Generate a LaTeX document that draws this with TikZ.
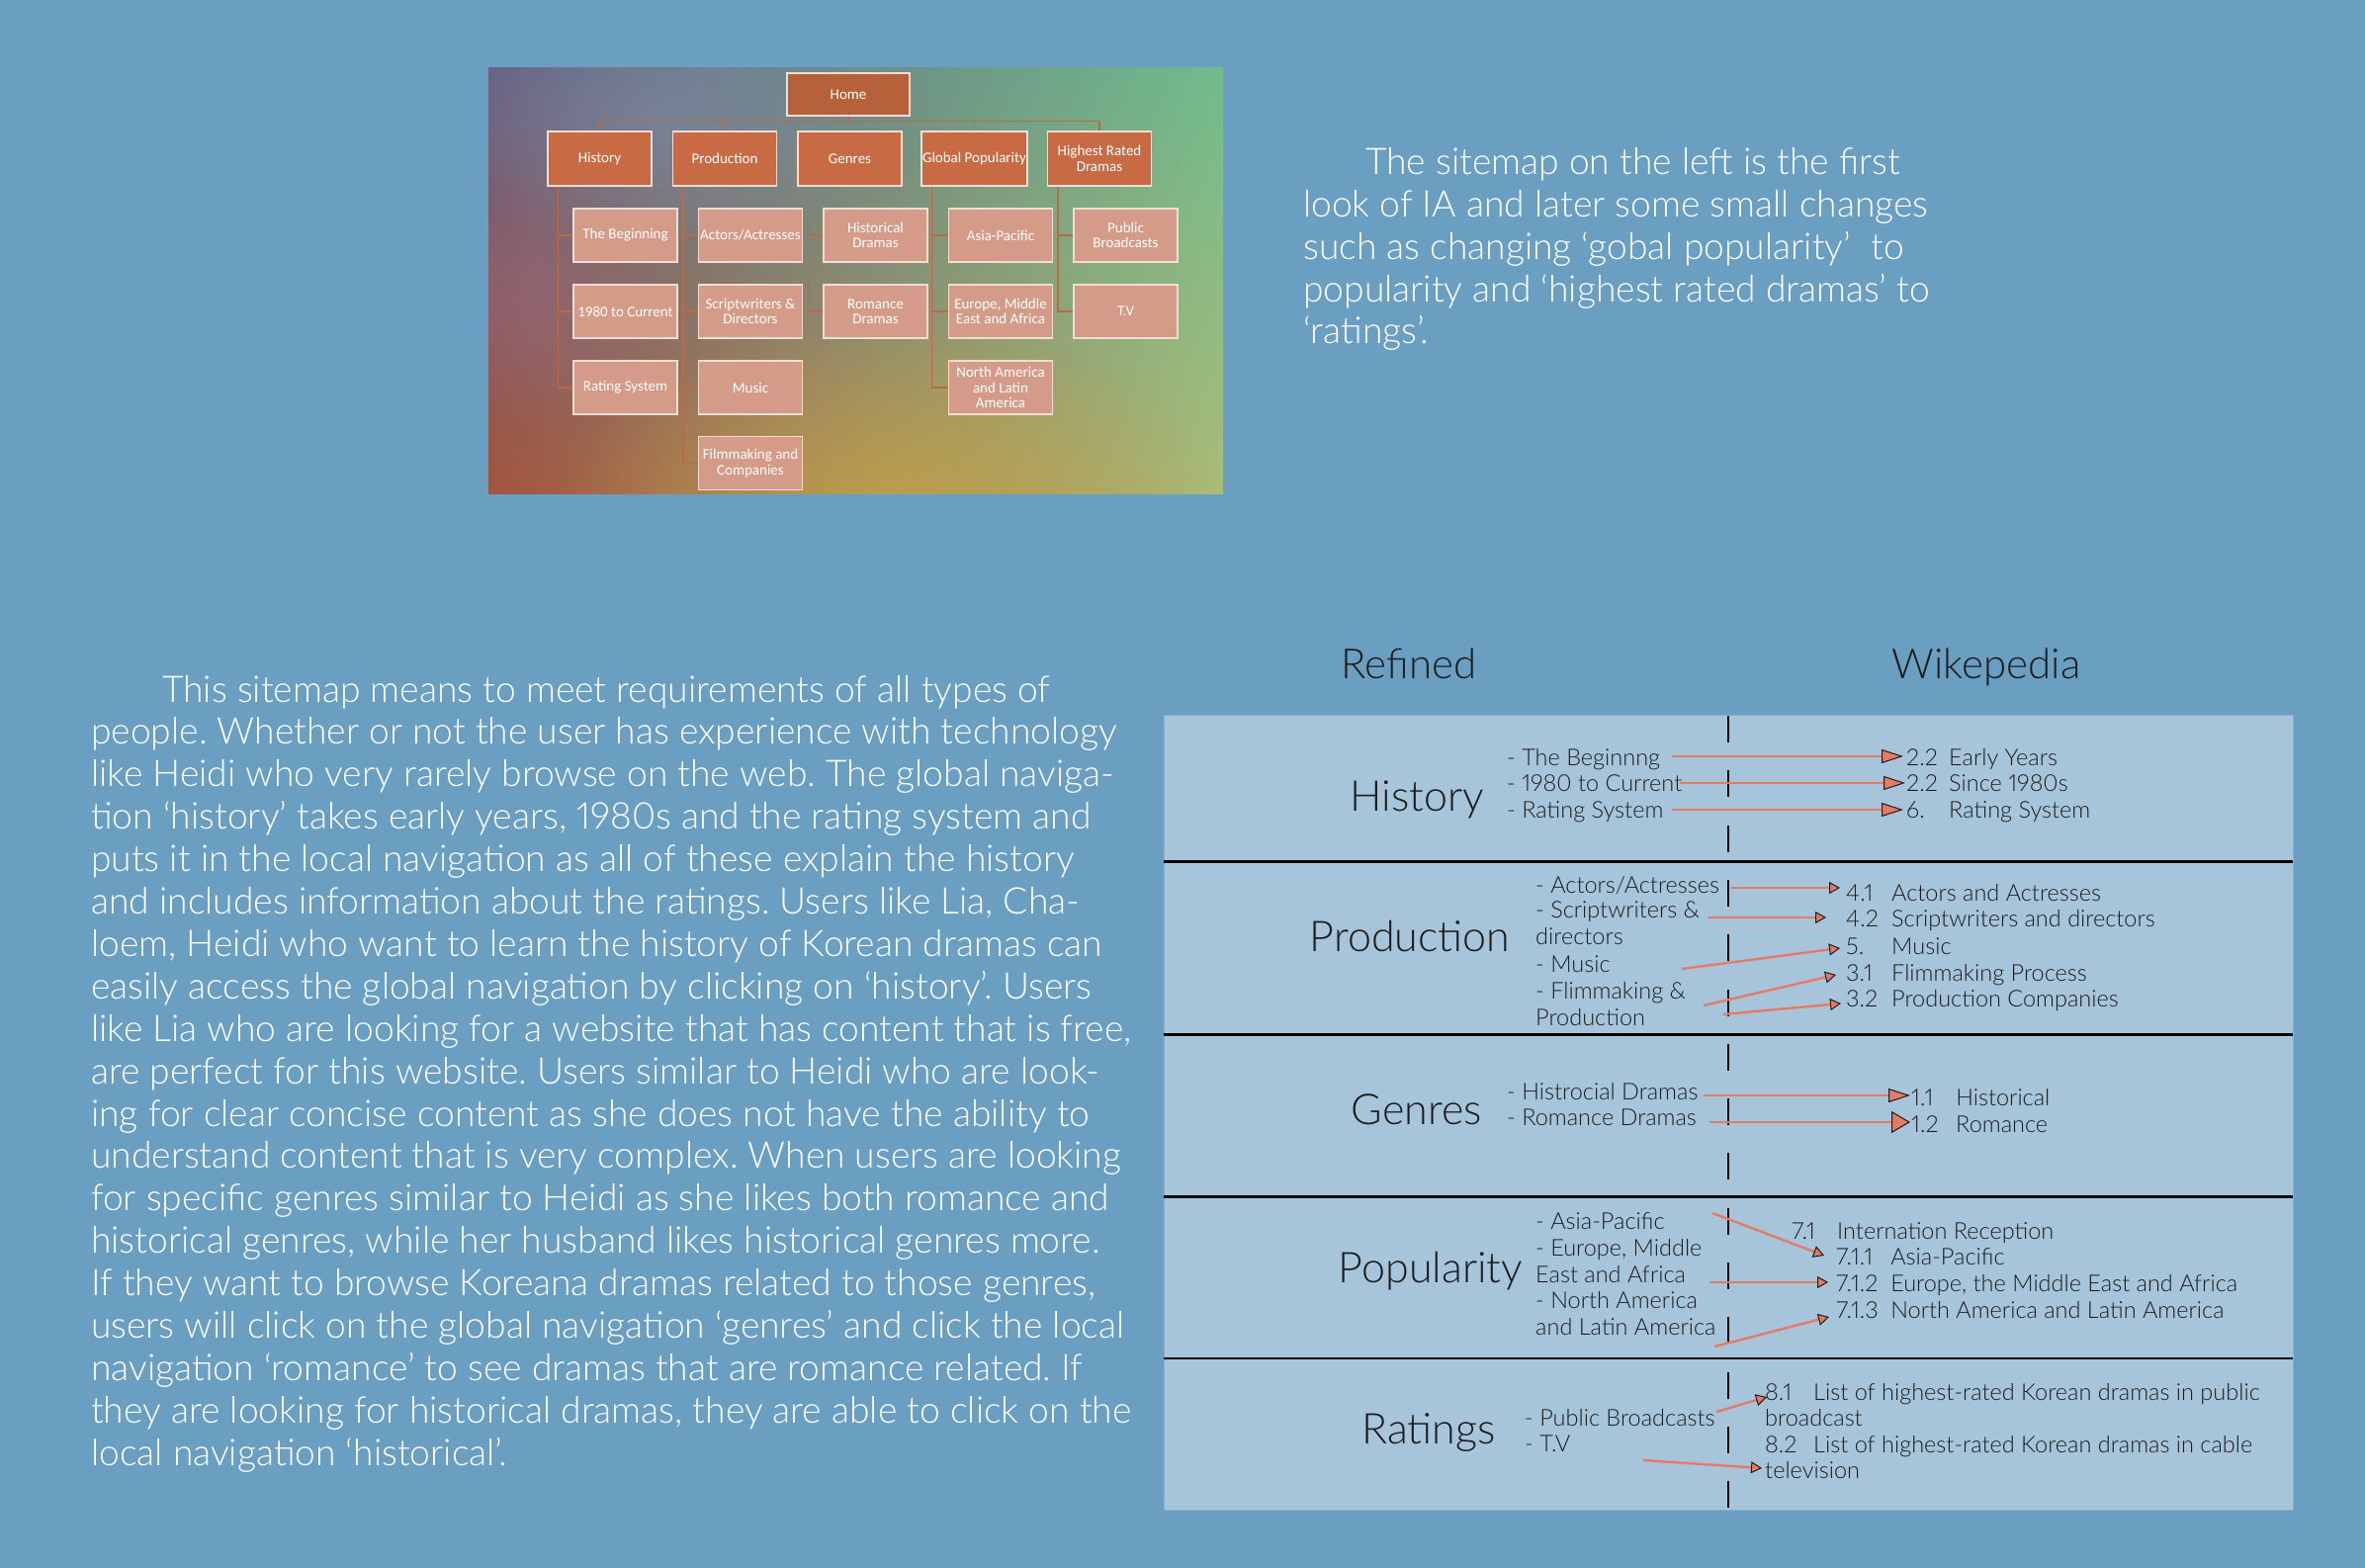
\documentclass[tikz,border=0pt]{standalone}
\usepackage{fontspec}
\IfFontExistsTF{Lato Light}{\setmainfont{Lato Light}[Numbers=Proportional]}{\setmainfont{Lato}[Numbers=Proportional]}
\newfontfamily\boxfont{Carlito}
\usetikzlibrary{arrows.meta,fadings,shadings}
\frenchspacing

\definecolor{pagebg}{HTML}{6B9FC1}
\definecolor{tablebg}{HTML}{A7C5DA}
\definecolor{tableedge}{HTML}{8DB1CB}
\definecolor{ink}{HTML}{1C1C1C}
\definecolor{arrowc}{HTML}{E27C66}
\definecolor{homefill}{HTML}{B7613B}
\definecolor{topfill}{HTML}{C86B45}
\definecolor{subfill}{HTML}{D49B88}
\definecolor{boxedge}{HTML}{F2DDD5}
\definecolor{treeline}{HTML}{B96B49}
\definecolor{glowgold}{HTML}{C2A448}
\definecolor{glowblue}{HTML}{7E8CAA}
\definecolor{glowmauve}{HTML}{9A6A80}
\definecolor{cornerUL}{HTML}{665E80}
\definecolor{cornerUR}{HTML}{70BC8C}
\definecolor{cornerLL}{HTML}{A2553F}
\definecolor{cornerLR}{HTML}{A9BC78}

\tikzfading[name=softglow, inner color=transparent!0, outer color=transparent!100]

\begin{document}
\begin{tikzpicture}[x=1pt,y=-1pt,
  homebox/.style={draw=boxedge, line width=1.2pt, fill=homefill,
    minimum width=124pt, minimum height=43pt, inner sep=1pt, text=white,
    font=\boxfont\fontsize{15}{15.5}\selectfont, align=center},
  topbox/.style={homebox, fill=topfill, minimum width=105pt, minimum height=55pt},
  subbox/.style={homebox, fill=subfill, minimum width=105pt, minimum height=54pt},
  tree/.style={draw=treeline, line width=1.3pt},
  para/.style={text=white, inner sep=0pt, anchor=base west,
    font=\fontsize{37.2}{43}\selectfont},
  head/.style={text=ink, inner sep=0pt, anchor=base,
    font=\fontsize{42}{48}\selectfont},
  rowtitle/.style={text=ink, inner sep=0pt, anchor=base,
    font=\fontsize{43}{48}\selectfont},
  item/.style={text=ink, inner sep=0pt, anchor=base west,
    font=\fontsize{23.5}{26}\selectfont},
  divider/.style={draw=black, line width=2.7pt},
  link/.style={draw=arrowc, line width=2.4pt,
    -{Triangle[length=22pt,width=14pt,color=ink,fill=arrowc,line width=1pt]}},
  biglink/.style={draw=arrowc, line width=2.4pt,
    -{Triangle[length=19pt,width=22pt,color=ink,fill=arrowc,line width=1pt]}},
  smalllink/.style={draw=arrowc, line width=2.4pt,
    -{Triangle[length=11pt,width=12pt,color=ink,fill=arrowc,line width=1pt]}}
]
\useasboundingbox (0,0) rectangle (2392,1586);
\fill[pagebg] (0,0) rectangle (2392,1586);

% ---------- first sitemap draft on a gradient panel ----------
\begin{scope}
  \clip (494,69) rectangle (1237,499);
  \shade[upper left=cornerUL, upper right=cornerUR,
         lower left=cornerLL, lower right=cornerLR]
    (494,69) rectangle (1237,499);
  \fill[glowgold, path fading=softglow, fill opacity=0.75] (900,510) ellipse (330 and 190);
  \fill[glowblue, path fading=softglow, fill opacity=0.6] (680,120) ellipse (260 and 140);
  \fill[glowmauve, path fading=softglow, fill opacity=0.5] (540,300) ellipse (150 and 140);
\end{scope}

\node[homebox] (home) at (858,95.5) {Home};

\node[topbox] (hist) at (606.5,160.5) {History};
\node[topbox] (prod) at (733,160.5) {Production};
\node[topbox] (genr) at (859.5,160.5) {Genres};
\node[topbox] (glob) at (985.5,160.5) {Global Popularity};
\node[topbox] (high) at (1112,160.5) {Highest Rated\\Dramas};

\node[subbox] (h1) at (632.5,238) {The Beginning};
\node[subbox] (h2) at (632.5,315) {1980 to Current};
\node[subbox] (h3) at (632.5,392) {Rating System};

\node[subbox] (p1) at (759,238) {Actors/Actresses};
\node[subbox] (p2) at (759,315) {Scriptwriters \&\\Directors};
\node[subbox] (p3) at (759,392) {Music};
\node[subbox] (p4) at (759,468.5) {Filmmaking and\\Companies};

\node[subbox] (g1) at (885.5,238) {Historical\\Dramas};
\node[subbox] (g2) at (885.5,315) {Romance\\Dramas};

\node[subbox] (o1) at (1012,238) {Asia-Pacific};
\node[subbox] (o2) at (1012,315) {Europe, Middle\\East and Africa};
\node[subbox] (o3) at (1012,392) {North America\\and Latin\\America};

\node[subbox] (r1) at (1138.5,238) {Public\\Broadcasts};
\node[subbox] (r2) at (1138.5,315) {T.V};

% tree connectors
\foreach \n in {hist,prod,genr,glob,high}
  \draw[tree] (home.south) -- ++(0,5) -| (\n.north);
\foreach \p/\c in {hist/h1,hist/h2,hist/h3,prod/p1,prod/p2,prod/p3,prod/p4,
                   genr/g1,genr/g2,glob/o1,glob/o2,glob/o3,high/r1,high/r2}
  \draw[tree] ([xshift=11pt]\p.south west) |- (\c.west);

% ---------- note on the right ----------
\node[para] (note1) at (1381,177) {The sitemap on the left is the first};
\node[para] (note2) at (1318,219.7) {look of IA and later some small changes};
\node[para] (note3) at (1318,262.4) {such as changing ‘gobal popularity’\ \ to};
\node[para] (note4) at (1318,305.1) {popularity and ‘highest rated dramas’ to};
\node[para] (note5) at (1318,347.8) {‘ratings’.};

% ---------- explanation paragraph ----------
\node[para] (body1) at (164,710) {This sitemap means to meet requirements of all types of};
\foreach \txt [count=\i from 2] in {
  {people. Whether or not the user has experience with technology},
  {like Heidi who very rarely browse on the web. The global naviga-},
  {tion ‘history’ takes early years, 1980s and the rating system and},
  {puts it in the local navigation as all of these explain the history},
  {and includes information about the ratings. Users like Lia, Cha-},
  {loem, Heidi who want to learn the history of Korean dramas can},
  {easily access the global navigation by clicking on ‘history’. Users},
  {like Lia who are looking for a website that has content that is free,},
  {are perfect for this website. Users similar to Heidi who are look-},
  {ing for clear concise content as she does not have the ability to},
  {understand content that is very complex. When users are looking},
  {for specific genres similar to Heidi as she likes both romance and},
  {historical genres, while her husband likes historical genres more.},
  {If they want to browse Koreana dramas related to those genres,},
  {users will click on the global navigation ‘genres’ and click the local},
  {navigation ‘romance’ to see dramas that are romance related. If},
  {they are looking for historical dramas, they are able to click on the},
  {local navigation ‘historical’.}}
  \node[para] (body\i) at (92,{710+(\i-1)*42.9}) {\txt};

% ---------- refined vs wikipedia table ----------
\node[head] (refined) at (1425,686) {Refined};
\node[head] (wiki) at (2009,686) {Wikepedia};

\fill[tablebg, draw=tableedge, line width=1pt] (1177,723) rectangle (2319,1527);
\foreach \yy in {871.5,1046.5,1210.5,1374}
  \draw[divider] (1177,\yy) -- (2319,\yy);
\draw[black, line width=2.4pt, dash pattern=on 27pt off 28.3pt] (1748,724) -- (1748,1527);

% History row
\node[rowtitle] (tHist) at (1433,820) {History};
\node[item] (lh1) at (1524,774) {- The Beginnng};
\node[item] (lh2) at (1524,800) {- 1980 to Current};
\node[item] (lh3) at (1524,827) {- Rating System};
\node[item] (wh1) at (1928,774) {\makebox[43pt][l]{2.2}Early Years};
\node[item] (wh2) at (1928,800) {\makebox[43pt][l]{2.2}Since 1980s};
\node[item] (wh3) at (1928,827) {\makebox[43pt][l]{6.}Rating System};
\coordinate (sh1) at (1691,765); \coordinate (eh1) at (1925,765);
\coordinate (sh2) at (1699,792); \coordinate (eh2) at (1927,792);
\coordinate (sh3) at (1691,819); \coordinate (eh3) at (1925,819);
\foreach \k in {1,2,3} \draw[link] (sh\k) -- (eh\k);

% Production row
\node[rowtitle] (tProd) at (1426,962) {Production};
\node[item] (lp1) at (1553,903) {- Actors/Actresses};
\node[item] (lp2) at (1553,928) {- Scriptwriters \&};
\node[item] (lp3) at (1553,955) {directors};
\node[item] (lp4) at (1553,983) {- Music};
\node[item] (lp5) at (1553,1010) {- Flimmaking \&};
\node[item] (lp6) at (1553,1037) {Production};
\node[item] (wp1) at (1867,911) {\makebox[46pt][l]{4.1}Actors and Actresses};
\node[item] (wp2) at (1867,937) {\makebox[46pt][l]{4.2}Scriptwriters and directors};
\node[item] (wp3) at (1867,965) {\makebox[46pt][l]{5.}Music};
\node[item] (wp4) at (1867,992) {\makebox[46pt][l]{3.1}Flimmaking Process};
\node[item] (wp5) at (1867,1018) {\makebox[46pt][l]{3.2}Production Companies};
\coordinate (sp1) at (1751,898);  \coordinate (ep1) at (1861,898);
\coordinate (sp2) at (1727,928);  \coordinate (ep2) at (1847,928);
\coordinate (sp3) at (1701,980);  \coordinate (ep3) at (1861,959);
\coordinate (sp4) at (1723,1017); \coordinate (ep4) at (1857,986);
\coordinate (sp5) at (1743,1026); \coordinate (ep5) at (1862,1015);
\foreach \k in {1,...,5} \draw[smalllink] (sp\k) -- (ep\k);

% Genres row
\node[rowtitle] (tGenr) at (1433,1137) {Genres};
\node[item] (lg1) at (1524,1112) {- Histrocial Dramas};
\node[item] (lg2) at (1524,1138) {- Romance Dramas};
\node[item] (wg1) at (1933,1118) {\makebox[45pt][l]{1.1}Historical};
\node[item] (wg2) at (1933,1145) {\makebox[45pt][l]{1.2}Romance};
\coordinate (sg1) at (1723,1108); \coordinate (eg1) at (1932,1108);
\coordinate (sg2) at (1729,1135); \coordinate (eg2) at (1932,1135);
\draw[link] (sg1) -- (eg1);
\draw[biglink] (sg2) -- (eg2);

% Popularity row
\node[rowtitle] (tPop) at (1447,1297) {Popularity};
\node[item] (lo1) at (1553,1243) {- Asia-Pacific};
\node[item] (lo2) at (1553,1270) {- Europe, Middle};
\node[item] (lo3) at (1553,1297) {East and Africa};
\node[item] (lo4) at (1553,1323) {- North America};
\node[item] (lo5) at (1553,1350) {and Latin America};
\node[item] (wo0) at (1812,1253) {\makebox[46pt][l]{7.1}Internation Reception};
\node[item] (wo1) at (1857,1279) {\makebox[55pt][l]{7.1.1}Asia-Pacific};
\node[item] (wo2) at (1857,1306) {\makebox[55pt][l]{7.1.2}Europe, the Middle East and Africa};
\node[item] (wo3) at (1857,1333) {\makebox[55pt][l]{7.1.3}North America and Latin America};
\coordinate (so1) at (1732,1227); \coordinate (eo1) at (1845,1270);
\coordinate (so2) at (1729,1297); \coordinate (eo2) at (1849,1297);
\coordinate (so3) at (1734,1362); \coordinate (eo3) at (1850,1332);
\foreach \k in {1,2,3} \draw[smalllink] (so\k) -- (eo\k);

% Ratings row
\node[rowtitle] (tRat) at (1445,1460) {Ratings};
\node[item] (lr1) at (1542,1442) {- Public Broadcasts};
\node[item] (lr2) at (1542,1468) {- T.V};
\node[item] (wr1) at (1785,1416) {\makebox[49pt][l]{8.1}List of highest-rated Korean dramas in public};
\node[item] (wr1b) at (1785,1442) {broadcast};
\node[item] (wr2) at (1785,1469) {\makebox[49pt][l]{8.2}List of highest-rated Korean dramas in cable};
\node[item] (wr2b) at (1785,1495) {television};
\coordinate (sr1) at (1736,1428); \coordinate (er1) at (1787,1413);
\coordinate (sr2) at (1662,1477); \coordinate (er2) at (1782,1485);
\draw[smalllink] (sr1) -- (er1);
\draw[smalllink] (sr2) -- (er2);
\end{tikzpicture}
\end{document}
